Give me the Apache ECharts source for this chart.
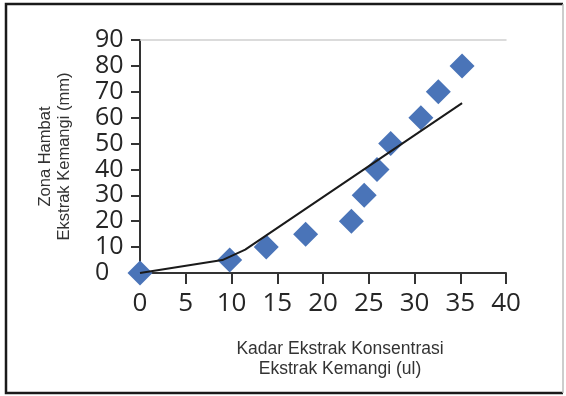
<!DOCTYPE html>
<html>
<head>
<meta charset="utf-8">
<script src="https://cdn.jsdelivr.net/npm/echarts@6/dist/echarts.min.js"></script>
<style>
  html, body { margin: 0; padding: 0; background: #fff; }
  #chart { width: 566px; height: 396px; }
</style>
</head>
<body>
<div id="chart"></div>
<script>
// kadar ekstrak (ul) vs zona hambat (mm)
const kadar = [0, 9.8, 13.8, 18.1, 23.1, 24.5, 25.9, 27.4, 30.7, 32.6, 35.2];
const zonaHambat = [0, 5, 10, 15, 20, 30, 40, 50, 60, 70, 80];

// garis tren
const trenX = [0, 9, 11.5, 35.2];
const trenY = [0, 5, 9, 65.6];

const xTicks = [0, 5, 10, 15, 20, 25, 30, 35, 40];
const yTicks = [0, 10, 20, 30, 40, 50, 60, 70, 80, 90];

const chart = echarts.init(document.getElementById("chart"));

const labelFont = '"Open Sans", "DejaVu Sans", sans-serif';
const titleFont = '"Liberation Sans", Arial, sans-serif';

chart.setOption({
  backgroundColor: "#fff",
  animation: false,
  grid: {
    left: 140,
    right: 60,
    top: 40,
    bottom: 123,
  },
  xAxis: [
    {
      type: "value",
      min: xTicks[0],
      max: xTicks[xTicks.length - 1],
      interval: 5,
      name: "Kadar Ekstrak Konsentrasi\nEkstrak Kemangi (ul)",
      nameLocation: "middle",
      nameGap: 66,
      nameTextStyle: {
        fontFamily: titleFont,
        fontSize: 17.5,
        lineHeight: 20,
        color: "#333",
        align: "center",
        verticalAlign: "top",
        padding: [0, 0, 0, 34],
      },
      splitLine: { show: false },
      axisLine: { lineStyle: { color: "#333", width: 2 } },
      axisTick: { length: 11, lineStyle: { color: "#333", width: 2 } },
      axisLabel: {
        margin: 18,
        fontFamily: labelFont,
        fontSize: 26,
        color: "#262626",
      },
    },
    {
      // garis tipis di atas (batas 90)
      type: "value",
      position: "top",
      min: 0,
      max: 40,
      axisLine: { show: true, lineStyle: { color: "#cfcfcf", width: 1.5 } },
      axisTick: { show: false },
      axisLabel: { show: false },
      splitLine: { show: false },
    },
  ],
  yAxis: {
    type: "value",
    min: yTicks[0],
    max: yTicks[yTicks.length - 1],
    interval: 10,
    name: "Zona Hambat\nEkstrak Kemangi (mm)",
    nameLocation: "middle",
    nameGap: 85,
    nameTextStyle: {
      fontFamily: titleFont,
      fontSize: 16.5,
      lineHeight: 19,
      color: "#333",
      align: "center",
      verticalAlign: "middle",
    },
    splitLine: { show: false },
    axisLine: { lineStyle: { color: "#333", width: 2 } },
    axisTick: { length: 9, lineStyle: { color: "#333", width: 2 } },
    axisLabel: {
      margin: 45,
      align: "left",
      showMinLabel: true,
      showMaxLabel: true,
      lineHeight: 20,
      fontFamily: labelFont,
      fontSize: 25,
      color: "#262626",
    },
  },
  graphic: [
    {
      type: "polyline",
      shape: { points: [[563, 393], [6, 393], [6, 4], [563, 4]] },
      style: { stroke: "#1a1a1a", lineWidth: 2.5, fill: null },
      z: 100,
    },
    {
      type: "line",
      shape: { x1: 563, y1: 4, x2: 563, y2: 393 },
      style: { stroke: "#bdbdbd", lineWidth: 1.5 },
      z: 100,
    },
  ],
  series: [
    {
      name: "Zona Hambat",
      type: "scatter",
      symbol: "diamond",
      symbolSize: 25,
      itemStyle: { color: "#4a74b8", opacity: 1 },
      data: kadar.map((x, i) => [x, zonaHambat[i]]),
      z: 2,
    },
    {
      name: "Tren",
      type: "line",
      showSymbol: false,
      symbol: "none",
      lineStyle: { color: "#1a1a1a", width: 2 },
      data: trenX.map((x, i) => [x, trenY[i]]),
      z: 3,
    },
  ],
});
</script>
</body>
</html>
